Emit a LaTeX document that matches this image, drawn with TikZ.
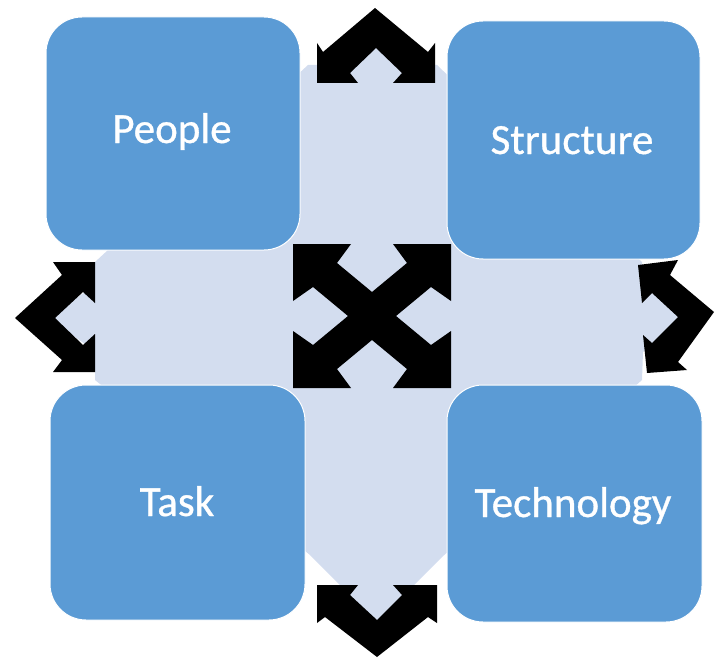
\documentclass[tikz,border=0pt]{standalone}
\usepackage{fontspec}
\setmainfont{Carlito}
\newfontfamily\lblfont{Carlito}[FakeBold=0.8]
\definecolor{boxblue}{HTML}{5B9BD5}
\definecolor{lightbg}{HTML}{D3DDEF}
\tikzset{
  tile/.style={draw=white, line width=1pt, fill=boxblue, rounded corners=36pt, inner sep=0pt},
  lbl/.style={text=white, font=\lblfont\fontsize{43}{50}\selectfont, anchor=base, inner sep=0pt},
  blackshape/.style={fill=black}
}
\begin{document}
\begin{tikzpicture}[x=1pt,y=-1pt]
\useasboundingbox (0,0) rectangle (715,658);
% light background
\fill[lightbg] (308,65) -- (350,65) -- (376,40) -- (402,65) -- (437,65)
  -- (642,262) -- (642,286) -- (685,317) -- (643,352) -- (642,380)
  -- (442,557) -- (377,622) -- (310,555)
  -- (95,380) -- (95,351) -- (48,318) -- (95,285) -- (95,262) -- cycle;
% tiles
\node[tile, minimum width=254pt, minimum height=233pt] (people) at (173,133.5) {};
\node[tile, minimum width=253pt, minimum height=238pt] (structure) at (573.5,140) {};
\node[tile, minimum width=255pt, minimum height=235pt] (task) at (177.5,502.5) {};
\node[tile, minimum width=255pt, minimum height=237pt] (technology) at (574.5,503.5) {};
\node[lbl] (tpeople) at (172,143) {People};
\node[lbl] (tstructure) at (572,154) {Structure};
\node[lbl] (ttask) at (177,516) {Task};
\node[lbl] (ttechnology) at (573,517) {Technology};
% top arrow
\fill[blackshape] (375,8) -- (428,52) -- (435,43) -- (435,83) -- (393,83) -- (402,73)
  -- (376,48) -- (350,73) -- (358,83) -- (317,83) -- (317,43) -- (323,52) -- cycle;
% bottom arrow
\fill[blackshape] (377,657) -- (325,617) -- (317,623) -- (317,585) -- (358,585) -- (350,595)
  -- (377,620) -- (402,595) -- (393,585) -- (437,585) -- (437,623) -- (428,617) -- cycle;
% left arrow
\fill[blackshape] (15,318) -- (62,275) -- (53,262) -- (95,262) -- (95,303) -- (83,292)
  -- (55,318) -- (83,345) -- (95,334) -- (95,372) -- (53,372) -- (62,360) -- cycle;
% right arrow
\fill[blackshape] (714,312) -- (678,362) -- (687,370) -- (647,373) -- (643,335) -- (652,343)
  -- (678,317) -- (652,293) -- (642,303) -- (638,265) -- (678,260) -- (670,275) -- cycle;
% centre arrow
\begin{scope}[shift={(372,316)}]
\fill[blackshape] (-79,-72) -- (-21,-72) -- (-35,-53) -- (0,-24) -- (35,-53) -- (21,-72)
  -- (79,-72) -- (79,-15) -- (59,-29) -- (24,0) -- (59,29) -- (79,15) -- (79,72)
  -- (21,72) -- (35,53) -- (0,24) -- (-35,53) -- (-21,72) -- (-79,72) -- (-79,15)
  -- (-59,29) -- (-24,0) -- (-59,-29) -- (-79,-15) -- cycle;
\end{scope}
\end{tikzpicture}
\end{document}
